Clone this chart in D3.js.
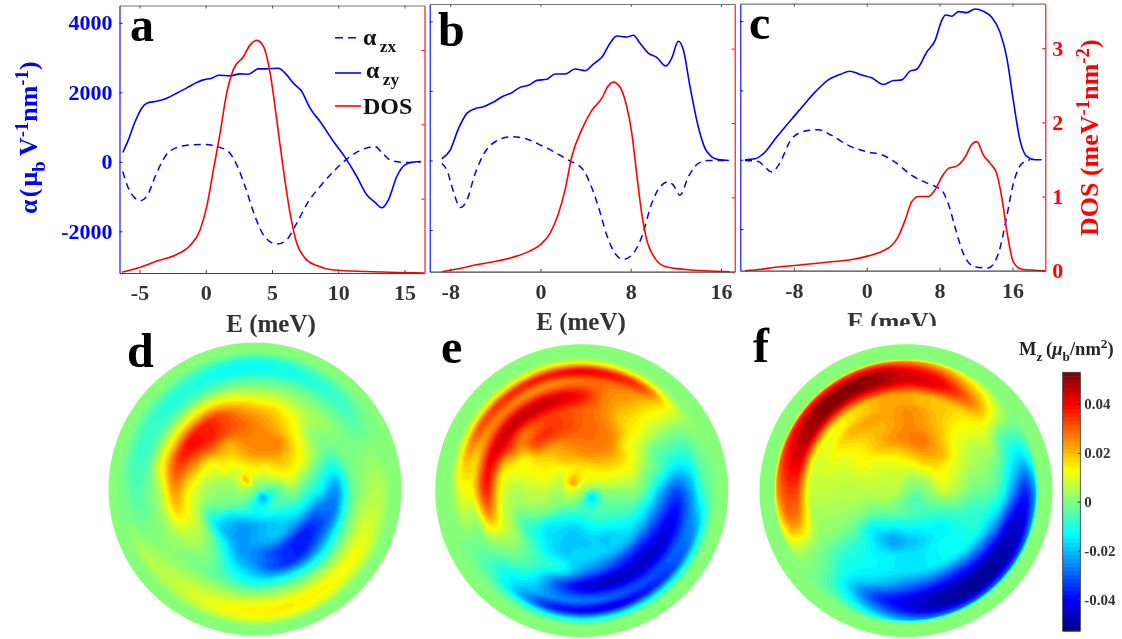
<!DOCTYPE html>
<html>
<head>
<meta charset="utf-8">
<script src="https://cdn.jsdelivr.net/npm/d3@7"></script>
<style>
    html, body { margin: 0; padding: 0; background: #fff; }
    #wrap { position: relative; width: 1122px; height: 639px; overflow: hidden; }
    #wrap canvas { position: absolute; }
    #wrap svg { position: absolute; left: 0; top: 0; }
    text { font-family: "Liberation Serif", serif; font-weight: bold; }
</style>
</head>
<body>
<div id="wrap"></div>
<script>
// panel a
const aZyE = [-6.26,-5.84,-5.33,-4.83,-4.45,-3.70,-2.94,-2.19,-1.43,-0.68,-0.18,0.45,0.96,1.84,2.59,3.22,3.97,4.60,5.48,6.11,6.62,7.25,7.87,8.63,9.64,10.64,11.40,12.15,12.78,13.28,13.79,14.42,15.04,15.67,16.23];
const aZy = [269,633,1160,1544,1688,1745,1832,1975,2129,2282,2359,2407,2493,2474,2532,2522,2675,2675,2695,2503,2263,2023,1544,1160,585,58,-422,-949,-1170,-1323,-1093,-422,-86,-10,10];
const aZxE = [-6.26,-5.84,-5.33,-4.96,-4.45,-3.82,-3.07,-2.31,-1.18,-0.18,0.83,1.71,2.34,2.97,3.72,4.35,5.36,6.11,6.87,7.75,8.63,9.64,10.64,11.65,12.78,13.28,14.04,15.04,16.23];
const aZx = [-278,-758,-1045,-1122,-997,-422,153,393,489,499,441,297,-86,-710,-1573,-2100,-2369,-2244,-1765,-1141,-710,-278,77,326,441,269,29,-19,0];
const aDosE = [-6.34,-5.08,-3.70,-2.19,-1.18,-0.43,0.08,0.58,1.08,1.58,2.09,2.84,3.35,3.85,4.35,4.86,5.36,5.86,6.36,6.87,7.50,8.38,9.64,12.15,16.48];
const aDos = [0.01,0.07,0.16,0.25,0.37,0.58,0.90,1.39,1.88,2.42,2.74,2.91,3.07,3.13,3.05,2.69,2.06,1.39,0.81,0.40,0.20,0.10,0.04,0.02,0];

// panel b
const bZyE = [-8.74,-8.00,-7.26,-6.52,-5.79,-5.05,-4.16,-3.28,-2.54,-1.80,-1.06,-0.32,0.56,1.30,2.18,3.07,3.96,4.69,5.43,6.17,6.76,7.65,8.24,8.83,9.57,10.30,11.10,11.63,12.22,12.67,13.26,13.99,14.59,15.18,15.77,16.71];
const bZy = [48,298,922,1354,1488,1546,1680,1853,1949,2102,2160,2304,2333,2486,2486,2630,2582,2774,2966,3370,3581,3552,3600,3370,3082,2966,2717,2938,3427,3178,2122,970,346,106,29,0];
const bZxE = [-8.74,-8.30,-7.71,-7.12,-6.52,-5.79,-4.90,-3.87,-2.60,-1.36,-0.18,1.30,2.48,3.81,4.40,5.14,5.88,6.61,7.35,8.09,8.98,9.86,10.60,11.34,11.78,12.37,13.11,13.99,14.88,16.71];
const bZx = [-86,-278,-902,-1354,-1142,-374,250,566,682,634,470,230,10,-278,-662,-1334,-2150,-2678,-2842,-2726,-2198,-1238,-758,-614,-710,-998,-470,-86,0,0];
const bDosE = [-8.74,-7.26,-6.08,-4.31,-2.54,-1.06,-0.03,0.86,1.59,2.18,2.78,3.66,4.55,5.43,6.02,6.47,7.06,7.65,8.09,8.53,8.98,9.42,10.16,11.04,12.81,16.80];
const bDos = [0,0.04,0.08,0.13,0.19,0.27,0.36,0.52,0.78,1.10,1.55,1.91,2.17,2.33,2.50,2.55,2.48,2.22,1.87,1.32,0.78,0.43,0.18,0.07,0.03,0];

// panel c
const cZyE = [-13.35,-12.25,-11.16,-9.88,-8.05,-6.95,-5.67,-4.21,-2.93,-1.83,-0.73,0.55,1.83,2.93,3.84,4.75,5.49,6.58,7.50,8.23,8.67,9.33,10.06,10.97,11.89,12.80,13.72,14.63,15.36,16.09,16.83,17.56,18.47,19.20];
const cZy = [0,29,221,653,1229,1565,1949,2304,2458,2554,2458,2362,2170,2285,2304,2554,2611,3101,3437,4013,4176,4138,4272,4243,4349,4282,4109,3677,2957,1709,557,96,0,0];
const cZxE = [-13.35,-11.89,-11.16,-10.42,-9.69,-8.23,-6.77,-5.30,-3.84,-2.01,0.18,1.65,3.11,4.94,6.77,8.23,8.96,9.69,10.61,11.89,13.35,14.45,15.36,16.09,17.01,17.92];
const cZx = [-19,-48,-211,-355,-163,605,826,864,701,413,221,144,-67,-451,-691,-883,-1267,-1939,-2707,-3091,-3120,-2707,-1651,-691,-115,0];
const cDosE = [-13.35,-11.52,-10.42,-7.13,-3.84,-1.65,0.18,1.65,2.74,3.47,4.21,4.94,5.67,6.77,7.50,8.23,8.96,9.88,10.79,11.59,12.11,12.80,13.53,14.26,14.81,15.36,16.09,17.01,19.57];
const cDos = [0,0.02,0.04,0.08,0.12,0.15,0.20,0.26,0.34,0.46,0.68,0.93,1.0,1.0,1.09,1.26,1.38,1.41,1.53,1.71,1.74,1.56,1.45,1.31,1.0,0.55,0.12,0.02,0];

// tick labels
const aETicks = [-5, 0, 5, 10, 15];
const bETicks = [-8, 0, 8, 16];
const cETicks = [-8, 0, 8, 16];
const alphaTicks = [-2000, 0, 2000, 4000];
const dosTicks = [0, 1, 2, 3];
const mzTicks = [-0.04, -0.02, 0, 0.02, 0.04];

// Mz maps, polar grid in 1e-3 mub/nm2. one row per ring, 24 angles from east going counterclockwise
const ringRadii = [0.08, 0.16, 0.25, 0.35, 0.45, 0.55, 0.65, 0.75, 0.82, 0.88];
const ringStepDeg = 15;
const mapD = [
    [-5,-1,2,4,5,7,8,10,15,20,14,8,5,3,1,-1,-4,-7,-10,-14,-18,-20,-16,-10],
    [-3,3,9,12,13,15,16,15,13,10,6,4,2,1,-1,-4,-8,-11,-13,-12,-10,-8,-6,-5],
    [3,9,15,19,22,24,24,22,18,14,12,5,2,1,-3,-14,-20,-23,-22,-20,-18,-14,-9,-3],
    [-6,2,12,18,25,26,26,26,22,22,14,10,5,2,-8,-17,-22,-24,-22,-20,-20,-22,-18,-12],
    [-14,-6,4,10,17,22,26,30,34,36,30,22,14,10,6,0,-10,-22,-26,-32,-36,-38,-34,-26],
    [-24,-12,-2,2,11,17,20,26,35,38,38,32,24,18,8,3,-3,-14,-22,-32,-36,-32,-28,-28],
    [-5,-2,0,3,4,6,7,10,14,14,14,14,6,4,3,0,-2,-5,-9,-9,-10,-10,-7,-5],
    [3,1,-2,-3,-3,-4,-5,-5,-5,-5,-4,-4,-3,-1,1,3,5,6,7,7,7,7,7,6],
    [5,2,-3,-7,-9,-11,-12,-12,-10,-9,-8,-7,-5,-2,3,6,9,12,14,15,14,13,12,8],
    [4,1,-1,-5,-7,-9,-10,-9,-7,-6,-5,-4,-2,0,5,5,7,9,11,11,10,8,7,5]
];
const mapE = [
    [-4,2,6,9,10,12,14,17,20,22,20,12,10,8,5,3,0,-3,-5,-8,-12,-15,-16,-11],
    [2,7,11,14,15,15,16,15,14,11,8,6,4,2,1,-3,-6,-8,-9,-8,-7,-5,-4,-1],
    [2,8,13,18,22,24,24,22,20,15,13,11,7,4,0,-9,-14,-17,-16,-13,-10,-8,-5,-2],
    [2,8,14,20,26,28,28,27,24,20,15,11,7,4,-3,-14,-17,-19,-19,-18,-18,-14,-9,-4],
    [-6,0,8,13,24,28,30,33,35,32,15,11,5,2,-6,-10,-15,-18,-17,-18,-19,-19,-18,-14],
    [-22,-6,-1,12,18,26,30,33,33,28,30,16,12,8,5,-2,-8,-12,-24,-30,-34,-36,-34,-30],
    [-32,-14,-2,10,20,26,38,44,46,46,44,40,36,24,5,-3,-12,-30,-42,-46,-46,-46,-44,-40],
    [-22,-12,-2,12,24,28,28,26,26,27,25,18,14,3,-1,-10,-18,-26,-28,-30,-32,-32,-30,-28],
    [-8,-4,0,14,32,38,40,38,36,34,30,20,12,4,-3,-9,-22,-36,-40,-42,-38,-34,-28,-20],
    [-3,-1,2,4,8,10,12,12,10,9,8,6,4,1,-1,-3,-6,-10,-12,-12,-11,-10,-8,-6]
];
const mapF = [
    [-2,0,1,2,2,3,4,6,7,7,7,6,6,5,3,1,-1,-2,-3,-4,-5,-5,-5,-4],
    [2,4,6,8,10,10,10,10,9,8,8,7,6,5,3,0,-2,-4,-5,-6,-6,-5,-3,0],
    [8,11,14,17,20,20,18,15,13,10,9,8,6,3,-1,-6,-10,-13,-13,-13,-11,-9,-5,0],
    [4,8,12,20,24,28,26,24,20,15,12,8,6,4,-1,-12,-18,-23,-20,-18,-15,-14,-9,-2],
    [-1,3,8,13,20,24,25,22,20,16,11,8,6,4,0,-8,-14,-15,-15,-15,-13,-12,-10,-7],
    [-3,2,5,11,17,22,25,22,22,20,14,9,7,4,1,-8,-12,-14,-16,-16,-15,-13,-11,-9],
    [-9,-3,6,14,18,20,22,22,18,14,11,9,7,4,1,-8,-14,-20,-28,-32,-34,-32,-28,-20],
    [-28,-14,-4,18,32,42,44,48,50,50,48,42,34,24,3,-4,-18,-34,-42,-48,-50,-50,-48,-42],
    [-36,-18,-4,12,24,36,42,50,52,52,46,40,33,26,5,-3,-12,-26,-38,-46,-50,-50,-48,-44],
    [-22,-10,-2,4,12,20,26,30,32,34,34,30,24,14,3,-1,-4,-12,-22,-28,-30,-30,-30,-26]
];

const W = 1122, H = 639;
const BLUE = '#0000ff', RED = '#ff0000', GREY = '#333333';
const MZ_MAX = 53; // colour range end, in the same 1e-3 units as the maps
const LEVELS = 64;

const wrap = d3.select('#wrap');
const svg = wrap.append('svg').attr('width', W).attr('height', H);

// helper for text with sub and superscripts. parts are [string, 'sub'|'sup'|undefined, italic]
const richText = (g, parts, size) => {
    let shift = 0;
    parts.forEach(([str, kind, italic]) => {
        const target = kind === 'sub' ? size * 0.3 : kind === 'sup' ? -size * 0.36 : 0;
        g.append('tspan')
            .attr('dy', target - shift)
            .attr('font-size', kind ? size * 0.72 : size)
            .attr('font-style', italic ? 'italic' : null)
            .text(str);
        shift = target;
    });
};

const createPanel = (p) => {
    const xScale = d3.scaleLinear().domain(p.eDomain).range([p.left, p.right]);
    const yScale = d3.scaleLinear().domain([-3200, 4500]).range([p.bottom, p.top]);
    const dosScale = d3.scaleLinear().domain([0, 3.6]).range([p.bottom, p.top]);
    const g = svg.append('g');

    const line = (scale) => d3.line()
        .x((d) => xScale(d[0]))
        .y((d) => scale(d[1]))
        .curve(d3.curveMonotoneX);

    g.append('path').datum(d3.zip(p.zxE, p.zx))
        .attr('fill', 'none').attr('stroke', BLUE).attr('stroke-width', 1.5)
        .attr('stroke-dasharray', '7,5').attr('d', line(yScale));
    g.append('path').datum(d3.zip(p.zyE, p.zy))
        .attr('fill', 'none').attr('stroke', BLUE).attr('stroke-width', 1.6).attr('d', line(yScale));
    g.append('path').datum(d3.zip(p.dosE, p.dos))
        .attr('fill', 'none').attr('stroke', RED).attr('stroke-width', 1.6).attr('d', line(dosScale));

    // axes
    const bottom = g.append('g').attr('transform', `translate(0,${p.bottom})`)
        .call(d3.axisBottom(xScale).tickValues(p.eTicks).tickSizeInner(-3).tickSizeOuter(0).tickFormat((d) => String(d)));
    bottom.select('.domain').attr('stroke', '#444').attr('stroke-width', 1.2);
    bottom.selectAll('line').attr('stroke', '#444');
    bottom.selectAll('text').attr('y', 27).attr('dy', 0).attr('font-size', 22)
        .attr('font-family', '"Liberation Serif", serif').attr('fill', GREY);

    const topAxis = g.append('g').attr('transform', `translate(0,${p.top})`)
        .call(d3.axisTop(xScale).tickValues(p.eTicks).tickSizeInner(-3).tickSizeOuter(0).tickFormat(''));
    topAxis.select('.domain').attr('stroke', '#777').attr('stroke-width', 1.2);
    topAxis.selectAll('line').attr('stroke', '#555');

    const left = g.append('g').attr('transform', `translate(${p.left},0)`)
        .call(d3.axisLeft(yScale).tickValues(alphaTicks).tickSizeInner(-3).tickSizeOuter(0)
            .tickFormat(p.leftLabels ? (d) => String(d) : ''));
    left.select('.domain').attr('stroke', BLUE).attr('stroke-width', 1.1);
    left.selectAll('line').attr('stroke', BLUE);
    left.selectAll('text').attr('x', -7).attr('font-size', 22)
        .attr('font-family', '"Liberation Serif", serif').attr('fill', BLUE);

    const right = g.append('g').attr('transform', `translate(${p.right},0)`)
        .call(d3.axisRight(dosScale).tickValues(dosTicks).tickSizeInner(-3).tickSizeOuter(0)
            .tickFormat(p.rightLabels ? (d) => String(d) : ''));
    right.select('.domain').attr('stroke', RED).attr('stroke-width', 1.1);
    right.selectAll('line').attr('stroke', RED);
    right.selectAll('text').attr('x', 7).attr('font-size', 22)
        .attr('font-family', '"Liberation Serif", serif').attr('fill', RED);

    g.append('text').attr('x', p.xLabelX).attr('y', p.xLabelY).attr('text-anchor', 'middle')
        .attr('font-size', 25).attr('fill', GREY)
        .attr('clip-path', p.xLabelClip || null)
        .text('E (meV)');

    g.append('text').attr('x', p.letterX).attr('y', p.letterY).attr('font-size', 48).attr('fill', '#000').text(p.letter);
};

// clips the label of panel c the way the heatmap row sits over it
svg.append('clipPath').attr('id', 'clipLabelC').append('rect')
    .attr('x', 800).attr('y', 290).attr('width', 200).attr('height', 36);

createPanel({ left: 119.5, right: 424.5, top: 5.5, bottom: 273, eDomain: [-6.51, 16.51], eTicks: aETicks,
    zyE: aZyE, zy: aZy, zxE: aZxE, zx: aZx, dosE: aDosE, dos: aDos, leftLabels: true,
    xLabelX: 271, xLabelY: 332, letter: 'a', letterX: 130, letterY: 41 });
createPanel({ left: 429.7, right: 734.7, top: 4, bottom: 271.7, eDomain: [-9.82, 17.22], eTicks: bETicks,
    zyE: bZyE, zy: bZy, zxE: bZxE, zx: bZx, dosE: bDosE, dos: bDos,
    xLabelX: 581, xLabelY: 330, letter: 'b', letterX: 438, letterY: 46 });
createPanel({ left: 740.3, right: 1045.3, top: 3.7, bottom: 270.7, eDomain: [-13.87, 19.6], eTicks: cETicks,
    zyE: cZyE, zy: cZy, zxE: cZxE, zx: cZx, dosE: cDosE, dos: cDos, rightLabels: true,
    xLabelX: 892, xLabelY: 330, xLabelClip: 'url(#clipLabelC)', letter: 'c', letterX: 749, letterY: 39 });

// y labels
const alphaLabel = svg.append('text').attr('transform', 'translate(37,214) rotate(-90)').attr('fill', BLUE);
richText(alphaLabel, [['\u03b1\u200a(\u200a\u03bc'], ['b', 'sub'], ['\u2009V'], ['-1', 'sup'], ['nm'], ['-1', 'sup'], [')']], 26);
const dosLabel = svg.append('text').attr('transform', 'translate(1098,236) rotate(-90)').attr('fill', RED);
richText(dosLabel, [['DOS (meV'], ['-1', 'sup'], ['nm'], ['-2', 'sup'], [')']], 26);

// legend
const legendRows = [
    { y: 37.7, dash: '8,5', color: BLUE, parts: [['\u03b1'], ['\u2009zx', 'sub']], textX: 363, textY: 45 },
    { y: 73, dash: null, color: BLUE, parts: [['\u03b1'], ['\u2009zy', 'sub']], textX: 366, textY: 78 },
    { y: 106, dash: null, color: RED, parts: [['DOS']], textX: 363, textY: 113.5 }
];
legendRows.forEach((row) => {
    svg.append('line').attr('x1', 335).attr('x2', 361).attr('y1', row.y).attr('y2', row.y)
        .attr('stroke', row.color).attr('stroke-width', 1.6).attr('stroke-dasharray', row.dash);
    const t = svg.append('text').attr('x', row.textX).attr('y', row.textY).attr('fill', '#111');
    richText(t, row.parts, 24);
});

// colormap
const t2v = (t) => (t - 0.5) * 2 * MZ_MAX;
const jet = d3.scaleLinear()
    .domain([0, 0.125, 0.375, 0.625, 0.875, 1].map(t2v))
    .range(['#00007f', '#0000ff', '#00ffff', '#ffff00', '#ff0000', '#7f0000'])
    .clamp(true);
const levelScale = d3.scaleQuantize().domain([-MZ_MAX, MZ_MAX]).range(d3.range(LEVELS));
const lut = d3.range(LEVELS).map((i) => d3.rgb(jet(-MZ_MAX + (i + 0.5) * (2 * MZ_MAX) / LEVELS)));

const catmull = (a, b, c, d, t) =>
    0.5 * (2 * b + (c - a) * t + (2 * a - 5 * b + 4 * c - d) * t * t + (3 * b - a - 3 * c + d) * t * t * t);

const drawMap = (rows, cx, cy, R, rim, letter, lx, ly) => {
    const nA = rows[0].length;
    // centre and rim rows come from the grid itself: the mean of ring one and the flat green edge
    const centre = d3.range(nA).map(() => d3.mean(rows[0]));
    const field = [centre, ...rows, d3.range(nA).map(() => 0)];
    const radii = [0, ...ringRadii, rim];
    const rScale = d3.scaleLinear().domain(radii).range(d3.range(radii.length));

    const ringAt = (i, a, t) => {
        const row = field[Math.max(0, Math.min(field.length - 1, i))];
        const w = (k) => row[(k + nA * 2) % nA];
        return catmull(w(a - 1), w(a), w(a + 1), w(a + 2), t);
    };

    const size = Math.ceil(R * 2) + 4;
    const ox = Math.floor(cx - R) - 2, oy = Math.floor(cy - R) - 2;
    const canvas = wrap.insert('canvas', 'svg')
        .attr('width', size).attr('height', size)
        .style('left', ox + 'px').style('top', oy + 'px').node();
    const ctx = canvas.getContext('2d');
    const img = ctx.createImageData(size, size);
    for (let py = 0; py < size; py++) {
        for (let px = 0; px < size; px++) {
            const dx = px + ox + 0.5 - cx, dy = cy - (py + oy + 0.5);
            const dist = Math.hypot(dx, dy);
            const alpha = Math.max(0, Math.min(1, R - dist + 0.5));
            if (alpha === 0) continue;
            const r = dist / R;
            let v = 0;
            if (r < rim) {
                const ri = rScale(r), i = Math.floor(ri), tr = ri - i;
                let deg = Math.atan2(dy, dx) * 180 / Math.PI;
                if (deg < 0) deg += 360;
                const ai = deg / ringStepDeg, a = Math.floor(ai), ta = ai - a;
                const v0 = ringAt(i - 1, a, ta), v1 = ringAt(i, a, ta),
                    v2 = ringAt(i + 1, a, ta), v3 = ringAt(i + 2, a, ta);
                v = catmull(v0, v1, v2, v3, tr);
                v = Math.max(Math.min(v1, v2), Math.min(Math.max(v1, v2), v));
            }
            const c = lut[levelScale(v)];
            const k = (py * size + px) * 4;
            img.data[k] = c.r; img.data[k + 1] = c.g; img.data[k + 2] = c.b;
            img.data[k + 3] = Math.round(alpha * 255);
        }
    }
    ctx.putImageData(img, 0, 0);
    svg.append('text').attr('x', lx).attr('y', ly).attr('font-size', 48).attr('fill', '#000').text(letter);
};

drawMap(mapD, 255, 489, 146.5, 0.94, 'd', 127, 367);
drawMap(mapE, 581.7, 490.7, 146.5, 0.92, 'e', 441, 363);
drawMap(mapF, 906, 490.7, 146.5, 0.905, 'f', 753, 362);

// colorbar
const barLeft = 1062.7, barRight = 1080.3, barTop = 372.3, barBottom = 631;
const barScale = d3.scaleLinear().domain([-0.053, 0.053]).range([barBottom, barTop]);
const barG = svg.append('g');
barG.selectAll('rect').data(d3.range(LEVELS)).enter().append('rect')
    .attr('x', barLeft)
    .attr('width', barRight - barLeft)
    .attr('y', (i) => barScale(-0.053 + (i + 1) * 0.106 / LEVELS))
    .attr('height', (barBottom - barTop) / LEVELS + 0.5)
    .attr('fill', (i) => lut[i].formatHex());
barG.append('rect').attr('x', barLeft).attr('y', barTop)
    .attr('width', barRight - barLeft).attr('height', barBottom - barTop)
    .attr('fill', 'none').attr('stroke', '#333').attr('stroke-width', 0.8);
const barAxis = barG.append('g').attr('transform', `translate(${barRight},0)`)
    .call(d3.axisRight(barScale).tickValues(mzTicks).tickSizeInner(-2.5).tickSizeOuter(0)
        .tickFormat((d) => String(d)));
barAxis.select('.domain').remove();
barAxis.selectAll('line').attr('stroke', '#333');
barAxis.selectAll('text').attr('x', 4).attr('font-size', 15)
    .attr('font-family', '"Liberation Serif", serif').attr('fill', GREY);

const mzLabel = svg.append('text').attr('x', 1019).attr('y', 355).attr('fill', '#222');
richText(mzLabel, [['M'], ['z', 'sub'], ['\u2009('], ['\u03bc', null, true], ['b', 'sub'], ['/nm'], ['2', 'sup'], [')']], 18.5);
</script>
</body>
</html>
